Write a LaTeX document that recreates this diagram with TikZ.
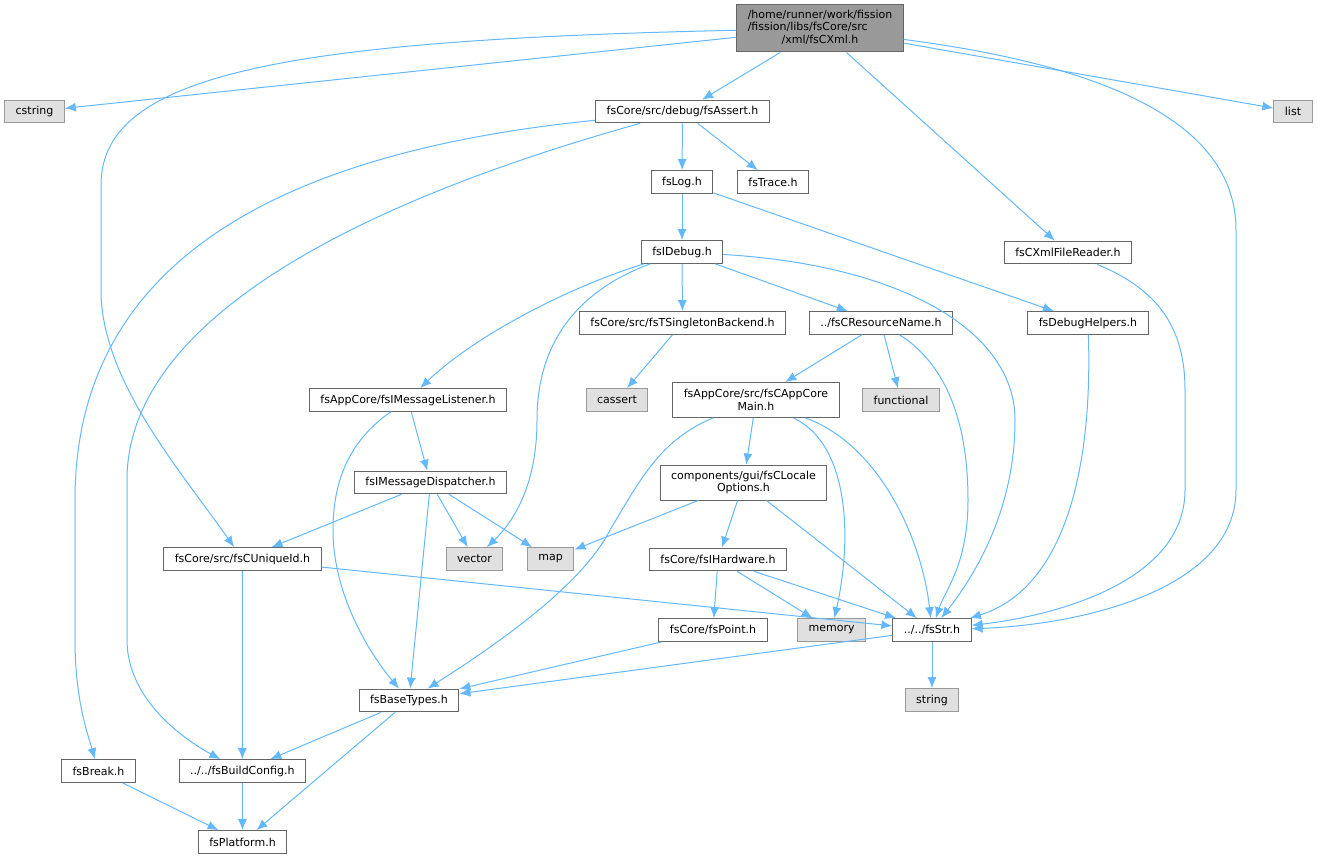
\documentclass[tikz,border=0pt]{standalone}
\usepackage{fontspec}
\setmainfont{DejaVu Sans}
\usetikzlibrary{arrows.meta}
\definecolor{edgeblue}{HTML}{63B8FF}
\definecolor{hdrborder}{HTML}{666666}
\definecolor{sysborder}{HTML}{999999}
\definecolor{sysfill}{HTML}{E0E0E0}
\definecolor{rootfill}{HTML}{999999}
\begin{document}
\begin{tikzpicture}[x=1pt,y=-1pt,
	header/.style={draw=hdrborder, fill=white, line width=1pt, inner xsep=11pt, inner ysep=0pt,
		minimum height=22.7pt, font=\fontsize{11}{12.3}\selectfont, align=center},
	sysheader/.style={header, draw=sysborder, fill=sysfill},
	twoline/.style={minimum height=35pt},
	dep/.style={draw=edgeblue, line width=1pt, -{Latex[length=11pt,width=9pt]}}]
		\useasboundingbox (0,0) rectangle (1318,859);
		
		%header nodes
		\node (Root) at (820,28.5) [header, fill=rootfill, minimum height=47pt]{\begin{tabular}{@{}l@{}}/home/runner/work/fission\\/fission/libs/fsCore/src\\\multicolumn{1}{@{}c@{}}{/xml/fsCXml.h}\end{tabular}};
		\node (cstring) at (34.5,111.5) [sysheader]{cstring};
		\node (Assert) at (682.5,111.5) [header]{fsCore/src/debug/fsAssert.h};
		\node (list) at (1293,111.5) [sysheader]{list};
		\node (Log) at (682,182) [header]{fsLog.h};
		\node (Trace) at (773,182) [header]{fsTrace.h};
		\node (IDebug) at (682,252) [header]{fsIDebug.h};
		\node (XmlFileReader) at (1068,252.5) [header]{fsCXmlFileReader.h};
		\node (Singleton) at (682.5,323) [header]{fsCore/src/fsTSingletonBackend.h};
		\node (ResourceName) at (881,323) [header]{../fsCResourceName.h};
		\node (DebugHelpers) at (1088,323) [header]{fsDebugHelpers.h};
		\node (cassert) at (617,400) [sysheader]{cassert};
		\node (MessageListener) at (408,400) [header]{fsAppCore/fsIMessageListener.h};
		\node (AppCoreMain) at (756,400) [header, twoline]{fsAppCore/src/fsCAppCore\\Main.h};
		\node (functional) at (901,400) [sysheader]{functional};
		\node (MessageDispatcher) at (430.5,482.5) [header]{fsIMessageDispatcher.h};
		\node (LocaleOptions) at (743.5,482.5) [header, twoline]{components/gui/fsCLocale\\Options.h};
		\node (UniqueId) at (242.5,559) [header]{fsCore/src/fsCUniqueId.h};
		\node (vector) at (474.5,559) [sysheader]{vector};
		\node (map) at (550.7,559) [sysheader]{map};
		\node (IHardware) at (718,559.5) [header]{fsCore/fsIHardware.h};
		\node (Point) at (713,630) [header]{fsCore/fsPoint.h};
		\node (memory) at (831.7,630) [sysheader]{memory};
		\node (Str) at (932,630) [header]{../../fsStr.h};
		\node (BaseTypes) at (409,700.5) [header]{fsBaseTypes.h};
		\node (string) at (932,700) [sysheader]{string};
		\node (Break) at (98.5,771) [header]{fsBreak.h};
		\node (BuildConfig) at (242.3,771) [header]{../../fsBuildConfig.h};
		\node (Platform) at (242.5,842) [header]{fsPlatform.h};
		
		%include links
		\draw[dep] (Root) -- (cstring);
		\draw[dep] (Root) .. controls (280,40) and (101,75) .. (101,185) -- (101,290) .. controls (101,380) and (180,470) .. (UniqueId);
		\draw[dep] (Root) -- (Assert);
		\draw[dep] (Root) -- (XmlFileReader);
		\draw[dep] (Root) -- (list);
		\draw[dep] (Root) .. controls (1100,65) and (1236,120) .. (1236,230) -- (1236,490) .. controls (1236,590) and (1080,625) .. (Str);
		\draw[dep] (Assert) -- (Log);
		\draw[dep] (Assert) -- (Trace);
		\draw[dep] (Assert) .. controls (300,150) and (75,250) .. (75,500) -- (75,640) .. controls (75,700) and (88,735) .. (Break);
		\draw[dep] (Assert) .. controls (330,210) and (127,330) .. (127,480) -- (127,640) .. controls (127,700) and (185,740) .. (BuildConfig);
		\draw[dep] (Log) -- (IDebug);
		\draw[dep] (Log) -- (DebugHelpers);
		\draw[dep] (IDebug) .. controls (560,290) and (470,340) .. (MessageListener);
		\draw[dep] (IDebug) .. controls (580,290) and (537,340) .. (537,420) .. controls (537,490) and (510,525) .. (vector);
		\draw[dep] (IDebug) -- (Singleton);
		\draw[dep] (IDebug) -- (ResourceName);
		\draw[dep] (IDebug) .. controls (900,265) and (1015,330) .. (1015,420) .. controls (1015,510) and (975,575) .. (Str);
		\draw[dep] (Singleton) -- (cassert);
		\draw[dep] (ResourceName) -- (AppCoreMain);
		\draw[dep] (ResourceName) -- (functional);
		\draw[dep] (ResourceName) .. controls (955,370) and (968,440) .. (968,500) .. controls (968,565) and (945,590) .. (Str);
		\draw[dep] (DebugHelpers) .. controls (1093,480) and (1060,590) .. (Str);
		\draw[dep] (XmlFileReader) .. controls (1160,290) and (1185,330) .. (1185,390) -- (1185,490) .. controls (1185,580) and (1060,615) .. (Str);
		\draw[dep] (MessageListener) -- (MessageDispatcher);
		\draw[dep] (MessageListener) .. controls (350,440) and (333,480) .. (333,530) .. controls (333,600) and (375,660) .. (BaseTypes);
		\draw[dep] (MessageDispatcher) -- (UniqueId);
		\draw[dep] (MessageDispatcher) -- (vector);
		\draw[dep] (MessageDispatcher) -- (map);
		\draw[dep] (MessageDispatcher) -- (BaseTypes);
		\draw[dep] (AppCoreMain) -- (LocaleOptions);
		\draw[dep] (AppCoreMain) .. controls (850,445) and (852,540) .. (memory);
		\draw[dep] (AppCoreMain) .. controls (880,445) and (922,540) .. (Str);
		\draw[dep] (AppCoreMain) .. controls (660,440) and (640,480) .. (610,530) .. controls (580,590) and (480,655) .. (BaseTypes);
		\draw[dep] (LocaleOptions) -- (map);
		\draw[dep] (LocaleOptions) -- (IHardware);
		\draw[dep] (LocaleOptions) -- (Str);
		\draw[dep] (IHardware) -- (Point);
		\draw[dep] (IHardware) -- (memory);
		\draw[dep] (IHardware) -- (Str);
		\draw[dep] (UniqueId) -- (Str);
		\draw[dep] (UniqueId) -- (BuildConfig);
		\draw[dep] (Point) -- (BaseTypes);
		\draw[dep] (Str) -- (BaseTypes);
		\draw[dep] (Str) -- (string);
		\draw[dep] (BaseTypes) -- (BuildConfig);
		\draw[dep] (BaseTypes) -- (Platform);
		\draw[dep] (BuildConfig) -- (Platform);
		\draw[dep] (Break) -- (Platform);
		
		\end{tikzpicture}
\end{document}
